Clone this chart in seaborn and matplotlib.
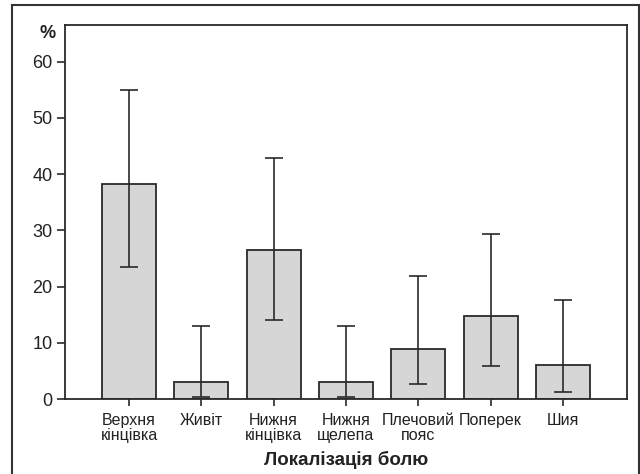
import matplotlib
matplotlib.use("Agg")
import matplotlib.pyplot as plt
import seaborn as sns
import pandas as pd
import numpy as np
from matplotlib.patches import Rectangle

categories = ["Верхня\nкінцівка", "Живіт", "Нижня\nкінцівка", "Нижня\nщелепа",
              "Плечовий\nпояс", "Поперек", "Шия"]
values = [38.2, 3.0, 26.5, 3.0, 8.9, 14.7, 6.0]
ci_low = [23.4, 0.3, 14.0, 0.3, 2.6, 5.9, 1.3]
ci_high = [55.0, 13.0, 42.8, 13.0, 21.8, 29.3, 17.6]
yticks = [0, 10, 20, 30, 40, 50, 60]

sns.set_theme(style="white")
plt.rcParams['font.family'] = ['Liberation Sans', 'DejaVu Sans']

df = pd.DataFrame({"cat": categories, "val": values})

fig = plt.figure(figsize=(6.4, 4.74), dpi=100)
W, H = 640, 474
ax = fig.add_axes([65 / W, 1 - 399 / H, (627 - 65) / W, (399 - 25) / H])

sns.barplot(data=df, x="cat", y="val", ax=ax, color="#d6d6d6",
            edgecolor="#2a2a2a", linewidth=1.3, width=0.75, saturation=1)

x = np.arange(len(categories))
vals = np.array(values)
yerr = np.vstack([vals - np.array(ci_low), np.array(ci_high) - vals])
ax.errorbar(x, vals, yerr=yerr, fmt="none", ecolor="#2a2a2a",
            elinewidth=1.2, capsize=6.5, capthick=1.2, zorder=5)

ax.set_xlim(-0.885, 6.885)
ax.set_ylim(0, 66.5)
ax.set_yticks(yticks)
ax.set_yticklabels([str(t) for t in yticks], fontsize=13, color="#222222")
ax.set_xticks(x)
ax.set_xticklabels(categories, fontsize=11.5, color="#222222", linespacing=1.0)

ax.tick_params(axis="y", direction="out", length=6, width=1.2, color="#2a2a2a",
               left=True, pad=3)
ax.tick_params(axis="x", direction="out", length=5, width=1.2, color="#2a2a2a",
               bottom=True, pad=5)

for side in ["left", "top", "right", "bottom"]:
    ax.spines[side].set_visible(True)
    ax.spines[side].set_color("#2a2a2a")
    ax.spines[side].set_linewidth(1.3)

ax.set_xlabel("Локалізація болю", fontsize=13.5, fontweight="bold",
              color="#222222", labelpad=6)
ax.set_ylabel("")

fig.text(48 / W, 1 - 33 / H, "%", fontsize=13, fontweight="bold",
         ha="center", va="center", color="#222222")

# outer frame
frame = Rectangle((12 / W, -0.05), (639 - 12) / W, 1 - 5 / H + 0.05,
                  transform=fig.transFigure, fill=False, edgecolor="#333333",
                  linewidth=1.5, clip_on=False)
fig.patches.append(frame)

fig.savefig("out.png", dpi=100)
